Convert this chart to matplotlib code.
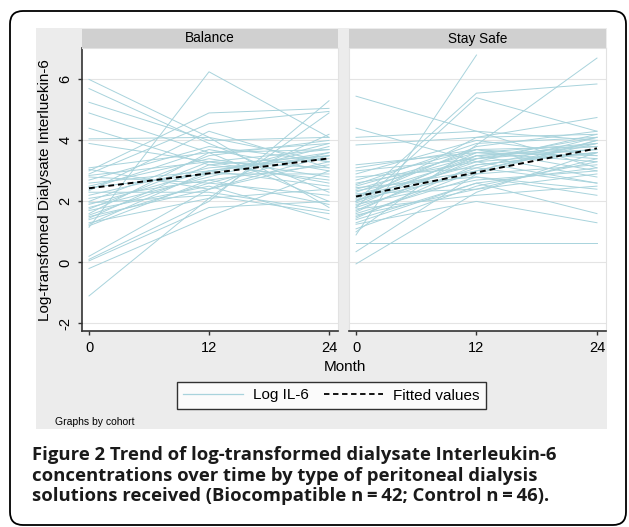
import numpy as np
import matplotlib
matplotlib.use("Agg")
import matplotlib.pyplot as plt
from matplotlib.patches import FancyBboxPatch
from matplotlib.lines import Line2D

plt.rcParams["axes.unicode_minus"] = False

# months of follow-up
months = [0, 12, 24]

# Balance cohort: log IL-6 at month 0, 12, 24 (one row per patient)
balance = [
    [6.0, 4.1, 1.8], [5.7, 3.9, 2.3], [5.25, 4.0, 4.1], [4.9, 3.6, 2.0],
    [4.4, 3.2, 3.5], [3.9, 3.3, 2.6], [1.15, 6.25, 4.1], [4.05, 4.1, 3.3],
    [0.2, 2.4, 3.5], [0.1, 2.0, 5.3], [0.05, 1.8, 2.0], [-0.2, 1.5, 3.0],
    [-1.1, 2.1, 4.9], [3.1, 3.6, 3.9], [3.0, 4.9, 5.05], [2.9, 4.55, 4.95],
    [2.85, 3.3, 3.7], [2.8, 2.6, 2.2], [2.7, 3.8, 3.3], [2.6, 3.0, 3.6],
    [2.5, 3.4, 2.8], [2.45, 2.9, 3.9], [2.4, 3.7, 3.0], [2.3, 2.3, 1.7],
    [2.2, 3.1, 3.4], [2.1, 2.7, 3.2], [2.0, 3.5, 4.0], [1.95, 2.2, 1.6],
    [1.9, 3.0, 2.5], [1.8, 2.8, 3.8], [1.75, 3.3, 3.1], [1.7, 2.5, 1.4],
    [1.6, 3.6, 3.7], [1.55, 2.9, 2.9], [1.5, 2.4, 3.3], [1.45, 3.2, 2.7],
    [1.4, 2.6, 3.6], [1.3, 2.1, 2.4], [1.25, 3.0, 3.5], [1.2, 2.7, 1.9],
    [3.05, 2.4, 4.2], [2.35, 4.3, 3.1],
]

# Stay Safe cohort
stay_safe = [
    [0.9, 6.8, np.nan], [1.0, 3.85, 6.7], [2.0, 5.55, 5.85], [1.8, 5.4, 4.3],
    [5.45, 4.3, 3.1], [4.4, 3.3, 2.6], [4.1, 4.3, 4.0], [3.85, 4.1, 4.75],
    [-0.05, 2.3, 3.6], [0.35, 2.9, 4.0], [0.65, 0.65, 0.65], [1.1, 2.5, 3.3],
    [1.25, 2.0, 1.3], [1.4, 2.6, 1.6], [1.5, 3.0, 3.9], [1.6, 2.8, 2.4],
    [1.7, 3.4, 3.7], [1.75, 2.2, 2.5], [1.8, 3.1, 4.1], [1.85, 3.6, 3.5],
    [1.9, 2.7, 3.0], [1.95, 3.3, 4.2], [2.0, 3.5, 3.8], [2.05, 2.9, 3.2],
    [2.1, 3.8, 4.3], [2.15, 3.2, 3.6], [2.2, 3.4, 3.9], [2.25, 2.4, 2.9],
    [2.3, 3.7, 3.4], [2.35, 3.0, 4.0], [2.4, 3.5, 3.7], [2.45, 2.8, 2.2],
    [2.5, 3.6, 3.3], [2.55, 3.9, 4.1], [2.6, 3.3, 3.6], [2.7, 3.7, 3.8],
    [2.8, 3.1, 2.6], [2.9, 4.0, 3.5], [3.0, 3.4, 4.1], [3.1, 3.7, 3.0],
    [1.55, 2.4, 3.4], [1.65, 3.5, 2.8], [1.3, 2.6, 3.1], [2.0, 4.1, 4.2],
    [3.2, 3.6, 3.9], [1.45, 3.2, 3.6],
]

# fitted values (linear fit) at month 0, 12, 24
fit_balance = [2.43, 2.92, 3.41]
fit_stay_safe = [2.16, 2.95, 3.74]

panels = ["Balance", "Stay Safe"]
yticks = [-2, 0, 2, 4, 6]
xticks = [0, 12, 24]

W, H = 629, 527
stata_font = "Liberation Sans"
line_col = "#a8d3dc"
axis_col = "#333333"


def fx(px):
    return px / W


def fy(px):
    return 1 - px / H


fig = plt.figure(figsize=(W / 100, H / 100), dpi=100)
fig.patch.set_facecolor("white")

# outer rounded frame
frame = FancyBboxPatch((0.10, 0.02), 6.16, 5.14,
                       boxstyle="round,pad=0,rounding_size=0.13",
                       transform=fig.dpi_scale_trans, facecolor="none",
                       edgecolor="black", linewidth=1.3)
fig.patches.append(frame)

# stata graph region (grey background)
bg = fig.add_axes([fx(36), fy(429), (607 - 36) / W, (429 - 28) / H], zorder=-5)
bg.set_facecolor("#ececec")
bg.set_xticks([])
bg.set_yticks([])
for s in bg.spines.values():
    s.set_visible(False)

lefts = [82, 349]
widths = [256, 257]
data = [balance, stay_safe]
fits = [fit_balance, fit_stay_safe]

for i in range(2):
    ax = fig.add_axes([fx(lefts[i]), fy(331), widths[i] / W, (331 - 48) / H], zorder=2)
    ax.set_facecolor("white")
    for row in data[i]:
        ax.plot(months, row, color=line_col, lw=0.7, zorder=2)
    ax.plot(months, fits[i], color="black", lw=1.4, dashes=(3, 2), zorder=3)
    ax.set_xlim(-0.7, 24.9)
    ax.set_ylim(-2.25, 7.03)
    ax.set_yticks(yticks)
    ax.set_xticks(xticks)
    ax.grid(axis="y", color="#e4e4e4", lw=0.8, zorder=1)
    ax.set_axisbelow(True)
    for s in ["top", "right"]:
        ax.spines[s].set_color("#e2e2e2")
        ax.spines[s].set_linewidth(0.8)
    ax.spines["bottom"].set_color(axis_col)
    ax.spines["bottom"].set_linewidth(1.2)
    ax.tick_params(axis="x", length=3, width=1, color=axis_col, pad=4,
                   labelsize=10.5, labelcolor="black")
    if i == 0:
        ax.spines["left"].set_color(axis_col)
        ax.spines["left"].set_linewidth(1.2)
        ax.tick_params(axis="y", length=3, width=1, color=axis_col, pad=4,
                       labelsize=10.5, labelrotation=90)
        for lab in ax.get_yticklabels():
            lab.set_va("center")
    else:
        ax.spines["left"].set_color("#e2e2e2")
        ax.spines["left"].set_linewidth(0.8)
        ax.tick_params(axis="y", left=False, labelleft=False)
    for lab in ax.get_xticklabels() + ax.get_yticklabels():
        lab.set_fontfamily(stata_font)

    # panel header strip
    hx = fig.add_axes([fx(lefts[i]), fy(48), widths[i] / W, 19 / H], zorder=2)
    hx.set_facecolor("#d0d0d0")
    hx.set_xticks([])
    hx.set_yticks([])
    for s in hx.spines.values():
        s.set_visible(False)
    hx.text(0.5, 0.5, panels[i], ha="center", va="center", fontsize=9.8,
            family=stata_font, transform=hx.transAxes)

fig.text(fx(45), fy(190), "Log-transfomed Dialysate Interluekin-6", rotation=90,
         ha="center", va="center", fontsize=11, family=stata_font)
fig.text(fx(345), fy(367), "Month", ha="center", va="center", fontsize=11,
         family=stata_font)
fig.text(fx(55), fy(422), "Graphs by cohort", ha="left", va="center", fontsize=7.5,
         family=stata_font)

handles = [Line2D([], [], color=line_col, lw=0.9),
           Line2D([], [], color="black", lw=1.3, dashes=(3, 2))]
leg = fig.legend(handles, ["Log IL-6", "Fitted values"], loc="center",
                 bbox_to_anchor=(fx(331.5), fy(395.5)), ncol=2, frameon=True,
                 fancybox=False, edgecolor="black", facecolor="white",
                 prop={"family": stata_font, "size": 11}, handlelength=3.9,
                 handletextpad=0.65, columnspacing=1.0, borderpad=0.4,
                 borderaxespad=0)
leg.get_frame().set_linewidth(1.0)
leg.set_zorder(5)

fig.text(fx(32), fy(446), "Figure 2 Trend of log-transformed dialysate Interleukin-6\n"
         "concentrations over time by type of peritoneal dialysis\n"
         "solutions received (Biocompatible n\u2009=\u200942; Control n\u2009=\u200946).",
         ha="left", va="top", fontsize=13.3, fontweight="bold", family="Open Sans",
         linespacing=1.18, color="#1a1a1a")

fig.savefig("out.png", dpi=100)
